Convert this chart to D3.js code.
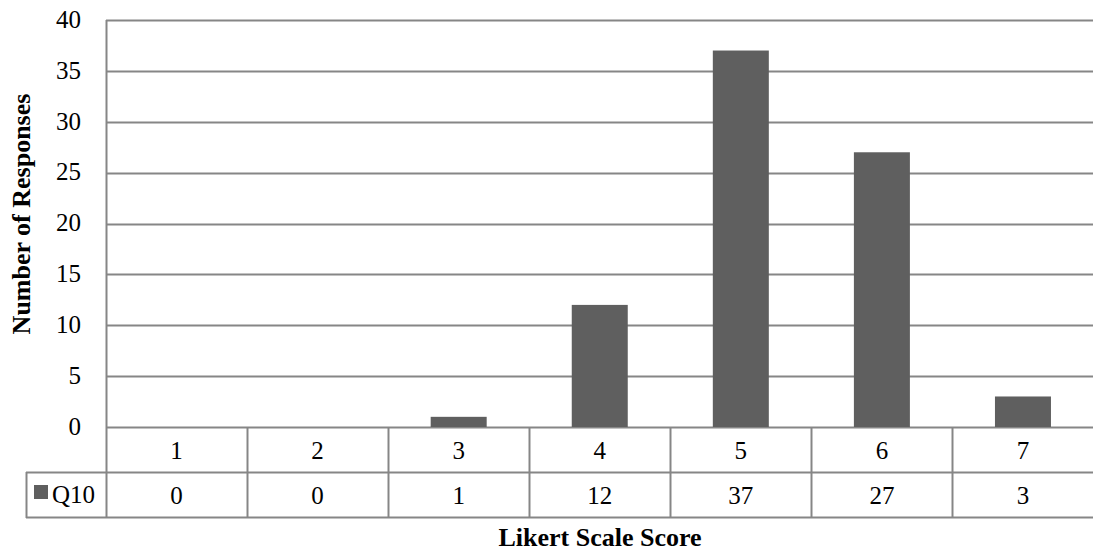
<!DOCTYPE html>
<html>
<head>
<meta charset="utf-8">
<script src="https://cdn.jsdelivr.net/npm/d3@7"></script>
<style>
  body { margin: 0; background: #fff; }
  svg text { font-family: "Liberation Serif", "Times New Roman", serif; fill: #000; }
</style>
</head>
<body>
<div id="vis"></div>
<script>
// values
var categories = ["1", "2", "3", "4", "5", "6", "7"];
var seriesName = "Q10";
var q10Values = [0, 0, 1, 12, 37, 27, 3];
var yTicks = [0, 5, 10, 15, 20, 25, 30, 35, 40];

var width = 1093, height = 551;
var margin = {top: 20, right: 0, left: 106};
var plotBottom = 427;       // zero line
var rowH = 45;              // data table row height
var legendLeft = 26;
var gridColor = "#868686";
var barColor = "#5f5f5f";
var fontSize = "25px";

var svg = d3.select("#vis").append("svg")
    .attr("width", width)
    .attr("height", height);

var x = d3.scaleBand()
    .domain(categories)
    .range([margin.left, width + 0.5])
    .paddingInner(0)
    .paddingOuter(0);

var y = d3.scaleLinear()
    .domain([0, 40])
    .range([plotBottom, margin.top]);

// horizontal gridlines
svg.append("g").selectAll("line")
    .data(yTicks)
    .enter().append("line")
    .attr("x1", margin.left)
    .attr("x2", width)
    .attr("y1", function(d){ return Math.round(y(d)) + 0.5; })
    .attr("y2", function(d){ return Math.round(y(d)) + 0.5; })
    .attr("stroke", gridColor)
    .attr("stroke-width", 2);

// y axis labels
svg.append("g").selectAll("text")
    .data(yTicks)
    .enter().append("text")
    .attr("x", 81)
    .attr("y", function(d){ return y(d) - 1; })
    .attr("dy", "0.35em")
    .attr("text-anchor", "end")
    .style("font-size", fontSize)
    .text(function(d){ return d; });

// bars
var barW = 56;
svg.append("g").selectAll("rect")
    .data(q10Values)
    .enter().append("rect")
    .attr("x", function(d, i){ return x(categories[i]) + x.bandwidth() / 2 - barW / 2; })
    .attr("y", function(d){ return y(d); })
    .attr("width", barW)
    .attr("height", function(d){ return plotBottom - y(d); })
    .attr("fill", barColor);

// vertical axis line
svg.append("line")
    .attr("x1", margin.left + 0.5).attr("x2", margin.left + 0.5)
    .attr("y1", margin.top).attr("y2", plotBottom + 2 * rowH)
    .attr("stroke", gridColor).attr("stroke-width", 2);

// data table
var row1 = plotBottom, row2 = plotBottom + rowH, row3 = plotBottom + 2 * rowH;
var table = svg.append("g");

[row2, row3].forEach(function(r){
    table.append("line")
        .attr("x1", legendLeft).attr("x2", width)
        .attr("y1", r + 0.5).attr("y2", r + 0.5)
        .attr("stroke", gridColor).attr("stroke-width", 2);
});

table.append("line")
    .attr("x1", legendLeft + 0.5).attr("x2", legendLeft + 0.5)
    .attr("y1", row2).attr("y2", row3 + 1)
    .attr("stroke", gridColor).attr("stroke-width", 2);

table.selectAll(".sep")
    .data(categories.slice(1))
    .enter().append("line")
    .attr("class", "sep")
    .attr("x1", function(d){ return Math.round(x(d)) + 0.5; })
    .attr("x2", function(d){ return Math.round(x(d)) + 0.5; })
    .attr("y1", row1)
    .attr("y2", row3 + 1)
    .attr("stroke", gridColor)
    .attr("stroke-width", 2);

table.selectAll(".cat")
    .data(categories)
    .enter().append("text")
    .attr("class", "cat")
    .attr("x", function(d){ return x(d) + x.bandwidth() / 2; })
    .attr("y", (row1 + row2) / 2 + 1)
    .attr("dy", "0.35em")
    .attr("text-anchor", "middle")
    .style("font-size", fontSize)
    .text(function(d){ return d; });

table.selectAll(".val")
    .data(q10Values)
    .enter().append("text")
    .attr("class", "val")
    .attr("x", function(d, i){ return x(categories[i]) + x.bandwidth() / 2; })
    .attr("y", (row2 + row3) / 2 + 1)
    .attr("dy", "0.35em")
    .attr("text-anchor", "middle")
    .style("font-size", fontSize)
    .text(function(d){ return d; });

// legend key
table.append("rect")
    .attr("x", 34).attr("y", 485)
    .attr("width", 14).attr("height", 14)
    .attr("fill", barColor);
table.append("text")
    .attr("x", 52)
    .attr("y", (row2 + row3) / 2)
    .attr("dy", "0.35em")
    .style("font-size", fontSize)
    .text(seriesName);

// axis titles
svg.append("text")
    .attr("x", 600)
    .attr("y", 537)
    .attr("dy", "0.35em")
    .attr("text-anchor", "middle")
    .style("font-size", "26px")
    .style("font-weight", "bold")
    .text("Likert Scale Score");

svg.append("text")
    .attr("transform", "translate(21,214) rotate(-90)")
    .attr("dy", "0.35em")
    .attr("text-anchor", "middle")
    .style("font-size", "26px")
    .style("font-weight", "bold")
    .text("Number of Responses");
</script>
</body>
</html>
